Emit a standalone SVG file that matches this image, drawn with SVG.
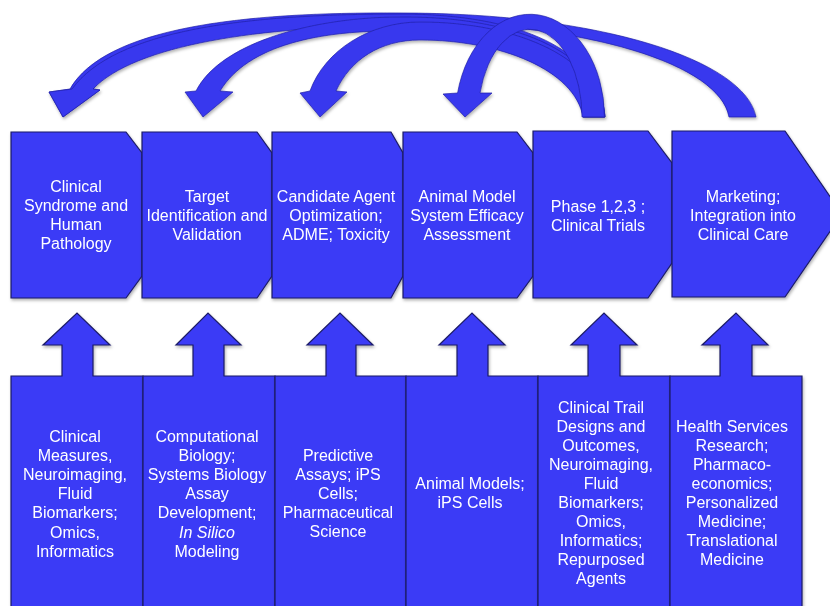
<svg xmlns="http://www.w3.org/2000/svg" width="830" height="606" viewBox="0 0 830 606">
<defs>
<filter id="sh" x="-10%" y="-10%" width="120%" height="130%">
<feDropShadow dx="1" dy="2" stdDeviation="1.5" flood-color="#000" flood-opacity="0.3"/>
</filter>
</defs>
<style>
.stage{fill:#3a3af6;stroke:#1c1c66;stroke-width:1.2;stroke-linejoin:miter}
.res{fill:#3a3af6;stroke:#1c1c66;stroke-width:1.2;stroke-linejoin:miter}
.arc{fill:#3737ee;stroke:#2323a8;stroke-width:0.7;stroke-linejoin:round}
text{font-family:"Liberation Sans",Arial,Helvetica,sans-serif;font-size:16px;fill:#fff;text-anchor:middle}
</style>
<rect width="830" height="606" fill="#fff"/>

<g id="connectors" filter="url(#sh)">
  <!-- Marketing -> Clinical Syndrome -->
  <path class="arc" d="M756,117 C745,60 600,13 400,13 C240,12 105,28 70,89 L49,92 L63,117 L100,90 L93,89 C125,45 250,22 400,22 C590,22 720,65 729,117 Z"/>
  <!-- Phase -> Clinical Syndrome -->
  <path class="arc" d="M605,117 C600,50 520,14 400,14 C245,14 115,30 72,89 L49,92 L63,117 L100,90 L93,89 C135,45 260,26 400,26 C500,26 578,60 583,117 Z"/>
  <!-- Phase -> Target -->
  <path class="arc" d="M605,117 C600,50 510,16 400,17 C320,17 222,40 196,91 L185,92 L203,117 L233,92 L220,91 C248,45 320,30 400,31 C500,32 578,65 583,117 Z"/>
  <!-- Phase -> Candidate -->
  <path class="arc" d="M605,117 C600,60 520,22 420,22 C370,22 325,50 310,91 L300,93 L320,117 L347,92 L336,91 C350,60 380,40 420,40 C500,40 575,70 583,117 Z"/>
  <!-- Phase -> Animal Model -->
  <path class="arc" d="M604.5,117 A74.5,103 0 0 0 457.6,93 L443,94 L465,117 L492,93 L480,93 A52,88 0 0 1 582,117 Z"/>
</g>

<g id="stage1" filter="url(#sh)">
  <polygon class="stage" points="11,132 126,132 142,153 142,276 126,298 11,298"/>
  <text x="76" y="192">Clinical<tspan x="76" dy="19">Syndrome and</tspan><tspan x="76" dy="19">Human</tspan><tspan x="76" dy="19">Pathology</tspan></text>
</g>
<g id="stage2" filter="url(#sh)">
  <polygon class="stage" points="142,132 257,132 272,153 272,276 257,298 142,298"/>
  <text x="207" y="201.5">Target<tspan x="207" dy="19">Identification and</tspan><tspan x="207" dy="19">Validation</tspan></text>
</g>
<g id="stage3" filter="url(#sh)">
  <polygon class="stage" points="272,132 391,132 403,153 403,276 391,298 272,298"/>
  <text x="336" y="201.5">Candidate Agent<tspan x="336" dy="19">Optimization;</tspan><tspan x="336" dy="19">ADME; Toxicity</tspan></text>
</g>
<g id="stage4" filter="url(#sh)">
  <polygon class="stage" points="403,132 517,132 533,153 533,276 517,298 403,298"/>
  <text x="467" y="201.5">Animal Model<tspan x="467" dy="19">System Efficacy</tspan><tspan x="467" dy="19">Assessment</tspan></text>
</g>
<g id="stage5" filter="url(#sh)">
  <polygon class="stage" points="533,131 648,131 672,163 672,263 648,298 533,298"/>
  <text x="598" y="211.5">Phase 1,2,3 ;<tspan x="598" dy="19">Clinical Trials</tspan></text>
</g>
<g id="stage6" filter="url(#sh)">
  <polygon class="stage" points="672,131 785,131 842,214 785,297 672,297"/>
  <text x="743" y="201.5">Marketing;<tspan x="743" dy="19">Integration into</tspan><tspan x="743" dy="19">Clinical Care</tspan></text>
</g>

<g id="res1" filter="url(#sh)">
  <path class="res" d="M11,376 H62 V345 H43 L77,313 L110,345 H93 V376 H143 V612 H11 Z"/>
  <text x="75" y="441.5">Clinical<tspan x="75" dy="19.2">Measures,</tspan><tspan x="75" dy="19.2">Neuroimaging,</tspan><tspan x="75" dy="19.2">Fluid</tspan><tspan x="75" dy="19.2">Biomarkers;</tspan><tspan x="75" dy="19.2">Omics,</tspan><tspan x="75" dy="19.2">Informatics</tspan></text>
</g>
<g id="res2" filter="url(#sh)">
  <path class="res" d="M143,376 H193 V345 H176 L208,313 L241,345 H224 V376 H275 V612 H143 Z"/>
  <text x="207" y="441.5">Computational<tspan x="207" dy="19.2">Biology;</tspan><tspan x="207" dy="19.2">Systems Biology</tspan><tspan x="207" dy="19.2">Assay</tspan><tspan x="207" dy="19.2">Development;</tspan><tspan x="207" dy="19.2" font-style="italic">In Silico</tspan><tspan x="207" dy="19.2">Modeling</tspan></text>
</g>
<g id="res3" filter="url(#sh)">
  <path class="res" d="M275,376 H326 V345 H307 L340,313 L373,345 H356 V376 H406 V612 H275 Z"/>
  <text x="338" y="460.5">Predictive<tspan x="338" dy="19.2">Assays; iPS</tspan><tspan x="338" dy="19.2">Cells;</tspan><tspan x="338" dy="19.2">Pharmaceutical</tspan><tspan x="338" dy="19.2">Science</tspan></text>
</g>
<g id="res4" filter="url(#sh)">
  <path class="res" d="M406,376 H457 V345 H439 L472,313 L505,345 H488 V376 H538 V612 H406 Z"/>
  <text x="470" y="488.5">Animal Models;<tspan x="470" dy="19.2">iPS Cells</tspan></text>
</g>
<g id="res5" filter="url(#sh)">
  <path class="res" d="M538,376 H588 V345 H571 L604,313 L637,345 H620 V376 H670 V612 H538 Z"/>
  <text x="601" y="412.5">Clinical Trail<tspan x="601" dy="19.1">Designs and</tspan><tspan x="601" dy="19.1">Outcomes,</tspan><tspan x="601" dy="19.1">Neuroimaging,</tspan><tspan x="601" dy="19.1">Fluid</tspan><tspan x="601" dy="19.1">Biomarkers;</tspan><tspan x="601" dy="19.1">Omics,</tspan><tspan x="601" dy="19.1">Informatics;</tspan><tspan x="601" dy="19.1">Repurposed</tspan><tspan x="601" dy="19.1">Agents</tspan></text>
</g>
<g id="res6" filter="url(#sh)">
  <path class="res" d="M670,376 H720 V345 H702 L736,313 L768,345 H752 V376 H802 V612 H670 Z"/>
  <text x="732" y="431.5">Health Services<tspan x="732" dy="19.1">Research;</tspan><tspan x="732" dy="19.1">Pharmaco-</tspan><tspan x="732" dy="19.1">economics;</tspan><tspan x="732" dy="19.1">Personalized</tspan><tspan x="732" dy="19.1">Medicine;</tspan><tspan x="732" dy="19.1">Translational</tspan><tspan x="732" dy="19.1">Medicine</tspan></text>
</g>
</svg>
